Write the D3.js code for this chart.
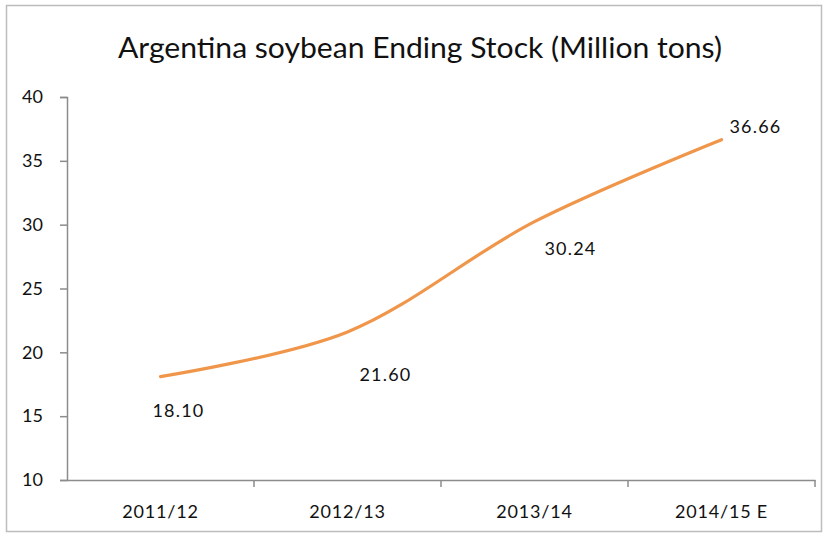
<!DOCTYPE html>
<html><head><meta charset="utf-8">
<script src="https://cdn.jsdelivr.net/npm/d3@7"></script>
<style>body{margin:0;background:#fff}svg{display:block}text{font-family:Lato,"Open Sans",sans-serif}</style>
</head><body><svg id="c" width="827" height="545"></svg>
<script>
const categories = ["2011/12","2012/13","2013/14","2014/15 E"];
const values = [18.10, 21.60, 30.24, 36.66];
const yTicks = [10,15,20,25,30,35,40];
const title = "Argentina soybean Ending Stock (Million tons)";

const svg = d3.select("#c");
svg.append("rect").attr("x",6.5).attr("y",5.5).attr("width",815).attr("height",526)
  .attr("fill","#fff").attr("stroke","#bdbdbd").attr("stroke-width",1.5);

const m = {left:67, right:815, top:97, bottom:480};
const x = d3.scaleBand().domain(categories).range([m.left,m.right]);
const y = d3.scaleLinear().domain([10,40]).range([m.bottom,m.top]);

svg.append("text").attr("x",420).attr("y",58).attr("text-anchor","middle")
  .attr("font-size",29).attr("fill","#111").attr("textLength",604).attr("lengthAdjust","spacingAndGlyphs").text(title);

const ya = svg.append("g").attr("transform",`translate(${m.left},0)`)
  .call(d3.axisLeft(y).tickValues(yTicks).tickSize(7).tickPadding(17));
const xa = svg.append("g").attr("transform",`translate(0,${m.bottom})`)
  .call(d3.axisBottom(x).tickSize(0).tickPadding(25));
[ya,xa].forEach(g=>{
  g.select(".domain").attr("stroke","#8c8c8c").attr("stroke-width",1.5);
  g.selectAll(".tick line").attr("stroke","#8c8c8c").attr("stroke-width",1.5);
  g.selectAll("text").attr("font-size",18).attr("fill","#111").attr("font-family","Lato, sans-serif");
});
xa.selectAll(".tick text").attr("dy","0.72em").attr("letter-spacing","0.8px");
// x tick marks at band boundaries
const bounds = categories.map(c=>x(c)+x.bandwidth());
svg.append("g").selectAll("line").data(bounds).join("line")
  .attr("x1",d=>d).attr("x2",d=>d).attr("y1",m.bottom).attr("y2",m.bottom+7)
  .attr("stroke","#8c8c8c").attr("stroke-width",1.5);

const pts = categories.map((c,i)=>[x(c)+x.bandwidth()/2, y(values[i])]);
svg.append("path").attr("d", d3.line().curve(d3.curveCatmullRom.alpha(0.5))(pts))
  .attr("fill","none").attr("stroke","#F0964A").attr("stroke-width",3.2).attr("stroke-linecap","round");

const offs = [[18,40],[38,49],[36,33],[34,-7]];
svg.append("g").selectAll("text").data(values).join("text")
  .attr("x",(d,i)=>pts[i][0]+offs[i][0]).attr("y",(d,i)=>pts[i][1]+offs[i][1])
  .attr("text-anchor","middle").attr("font-size",18).attr("letter-spacing","1.2px").attr("fill","#111")
  .text(d=>d.toFixed(2));
</script></body></html>
